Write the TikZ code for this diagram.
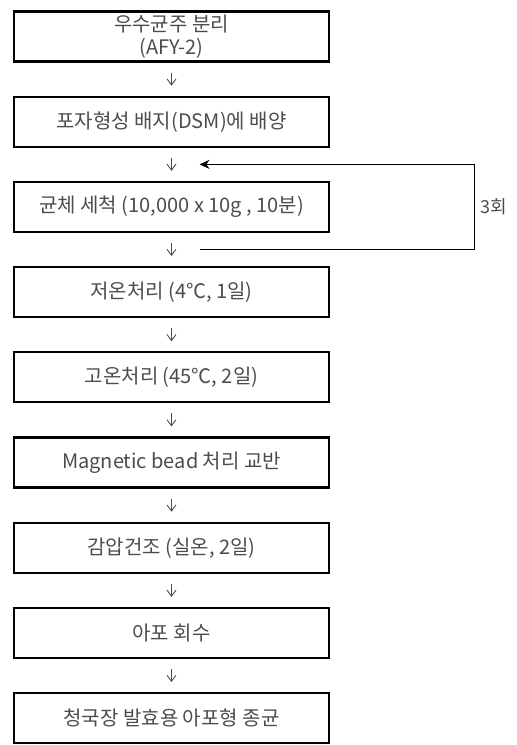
\documentclass[tikz,border=0pt]{standalone}
\usepackage{fontspec}
\setmainfont{Noto Sans CJK KR}
\usetikzlibrary{positioning,calc,arrows.meta}

\begin{document}
\begin{tikzpicture}[x=1pt, y=1pt, node distance={33pt}, main/.style = {draw, line width=2.2pt, minimum width=315pt, minimum height=50pt, align=center, text=black!70, font=\fontsize{20}{23}\selectfont}, flow/.style = {-{Straight Barb[length=6pt, width=9pt]}, line width=0.9pt, black!70, shorten <=10pt, shorten >=10pt}]

\useasboundingbox (0,0) rectangle (517,-745);

\node[main] (1) at (171.5,-36.5) {우수균주 분리\\(AFY-2)};
\node[main] (2) [below=of 1] {포자형성 배지(DSM)에 배양};
\node[main] (3) [below=of 2] {균체 세척 (10,000 x 10g , 10분)};
\node[main] (4) [below=of 3] {저온처리 (4℃, 1일)};
\node[main] (5) [below=of 4] {고온처리 (45℃, 2일)};
\node[main] (6) [below=of 5] {Magnetic bead 처리 교반};
\node[main] (7) [below=of 6] {감압건조 (실온, 2일)};
\node[main] (8) [below=of 7] {아포 회수};
\node[main] (9) [below=of 8] {청국장 발효용 아포형 종균};

\foreach \a/\b in {1/2, 2/3, 3/4, 4/5, 5/6, 6/7, 7/8, 8/9}
  \draw[flow] (\a) -- (\b);

\coordinate (in) at ($(2.south)!0.5!(3.north) + (28,0)$);
\coordinate (out) at ($(3.south)!0.5!(4.north) + (28,0)$);
\draw[-{Stealth[length=10pt, width=9pt]}, line width=1.4pt] (out) -- ++(275,0) |- node[pos=0.25, right=2pt, text=black!70, font=\fontsize{18}{20}\selectfont] {3회} (in);

\end{tikzpicture}
\end{document}
